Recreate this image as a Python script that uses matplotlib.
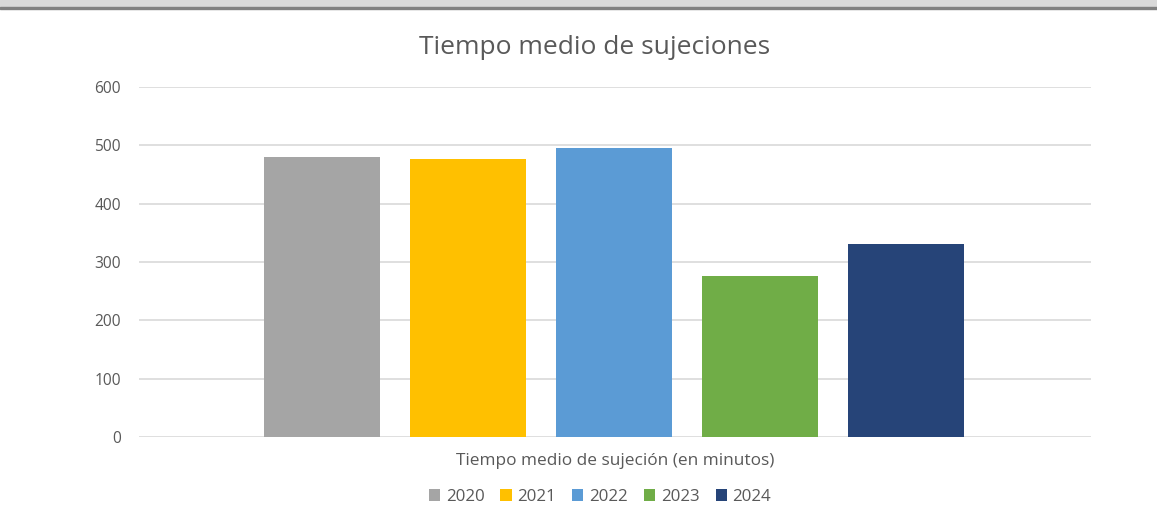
import matplotlib.pyplot as plt
from matplotlib.patches import Rectangle

years = ["2020", "2021", "2022", "2023", "2024"]
minutes = [480, 477, 495, 276, 331]
colors = ["#a5a5a5", "#ffc000", "#5b9bd5", "#70ad47", "#264478"]

plt.rcParams['font.family'] = ['Open Sans', 'DejaVu Sans']
W, H = 1157, 522
fig = plt.figure(figsize=(W / 100, H / 100), dpi=100)

# grey strip along the top edge
fig.patches.append(Rectangle((0, 1 - 7 / H), 1, 7 / H, transform=fig.transFigure,
                             color="#d9d9d9", zorder=0))
fig.patches.append(Rectangle((0, 1 - 9 / H), 1, 2 / H, transform=fig.transFigure,
                             color="#808080", zorder=0))

ax = fig.add_axes([139 / W, 1 - 437 / H, (1091 - 139) / W, (437 - 87) / H])
x = range(len(years))
bars = ax.bar(x, minutes, width=0.79, color=colors, label=years, zorder=3)

ax.set_ylim(0, 600)
ax.set_yticks(range(0, 601, 100))
ax.set_xlim(-1.253, 5.267)
ax.set_xticks([])
ax.yaxis.grid(True, color="#d9d9d9", linewidth=1.2, zorder=0)
for s in ax.spines.values():
    s.set_visible(False)
ax.tick_params(axis="y", length=0, pad=13, labelsize=11.2, labelcolor="#595959")

fig.text(595 / W, 1 - 48 / H, "Tiempo medio de sujeciones", ha="center", va="center",
         fontsize=19, color="#595959")
fig.text(615 / W, 1 - 461 / H, "Tiempo medio de sujeción (en minutos)", ha="center",
         va="center", fontsize=12.4, color="#595959")

fig.legend(handles=bars, labels=years, loc="center", bbox_to_anchor=(600 / W, 1 - 497 / H),
           ncol=5, frameon=False, fontsize=12.2, labelcolor="#595959",
           handlelength=0.65, handleheight=0.65, handletextpad=0.35, columnspacing=0.95)

fig.savefig("out.png", dpi=100, facecolor="white")
